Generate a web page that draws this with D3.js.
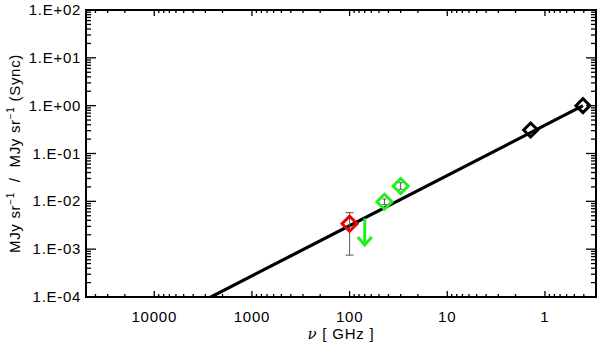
<!DOCTYPE html>
<html>
<head>
<meta charset="utf-8">
<script src="https://d3js.org/d3.v7.min.js"></script>
<style>
  body { margin: 0; background: #fff; }
  svg text { font-family: "Liberation Sans", Arial, sans-serif; fill: #000; }
</style>
</head>
<body>
<div id="graph"></div>
<script>
// Synchrotron reference points (GHz, ratio)
var syncFreq = [0.408, 1.4];
var syncVal = [1.0, 0.31];

// Green points with small error bars
var greenFreq = [30, 44];
var greenVal = [0.0209, 0.0098];
var greenLo = [0.0178, 0.0086];
var greenHi = [0.0245, 0.0112];

// Red point with error bar
var redFreq = [100];
var redVal = [0.0034];
var redLo = [0.00075];
var redHi = [0.0058];

// Upper limit arrow
var limitFreq = [70];
var limitTop = [0.0044];
var limitTip = [0.00122];

// Power law line (end points)
var lineFreq = [0.408, 5000];
var lineVal = [1.0, 0.000051];

var yTickLabels = ["1.E-04", "1.E-03", "1.E-02", "1.E-01", "1.E+00", "1.E+01", "1.E+02"];
var xTickLabels = ["10000", "1000", "100", "10", "1"];

var width = 600, height = 342;
var margin = {top: 10, right: 4, bottom: 45, left: 86};

var svg = d3.select("#graph").append("svg")
    .attr("width", width)
    .attr("height", height);

var x = d3.scaleLog().domain([50000, 0.3]).range([margin.left, width - margin.right]);
var y = d3.scaleLog().domain([1e-4, 1e2]).range([height - margin.bottom, margin.top]);

var x0 = x.range()[0], x1 = x.range()[1], y0 = y.range()[0], y1 = y.range()[1];

// clip for data
svg.append("clipPath").attr("id", "clip")
  .append("rect")
    .attr("x", x0).attr("y", y1)
    .attr("width", x1 - x0).attr("height", y0 - y1);

function isMajor(v) {
    var l = Math.log10(v);
    return Math.abs(l - Math.round(l)) < 1e-6;
}

var xAll = x.ticks();
var yAll = y.ticks();
var xMajor = xAll.filter(isMajor), xMinor = xAll.filter(function(d){ return !isMajor(d); });
var yMajor = yAll.filter(isMajor), yMinor = yAll.filter(function(d){ return !isMajor(d); });

var axes = svg.append("g").attr("class", "axes");

// bottom + top ticks
[[y0, -1], [y1, 1]].forEach(function(p) {
    axes.selectAll(null).data(xMajor).enter().append("line")
        .attr("x1", function(d){ return x(d); }).attr("x2", function(d){ return x(d); })
        .attr("y1", p[0]).attr("y2", p[0] + p[1] * 6)
        .attr("stroke", "#000").attr("stroke-width", 1.3);
    axes.selectAll(null).data(xMinor).enter().append("line")
        .attr("x1", function(d){ return x(d); }).attr("x2", function(d){ return x(d); })
        .attr("y1", p[0]).attr("y2", p[0] + p[1] * 3)
        .attr("stroke", "#000").attr("stroke-width", 1.3);
});

// left + right ticks
[[x0, 1], [x1, -1]].forEach(function(p) {
    axes.selectAll(null).data(yMajor).enter().append("line")
        .attr("y1", function(d){ return y(d); }).attr("y2", function(d){ return y(d); })
        .attr("x1", p[0]).attr("x2", p[0] + p[1] * 10)
        .attr("stroke", "#000").attr("stroke-width", 1.3);
    axes.selectAll(null).data(yMinor).enter().append("line")
        .attr("y1", function(d){ return y(d); }).attr("y2", function(d){ return y(d); })
        .attr("x1", p[0]).attr("x2", p[0] + p[1] * 5)
        .attr("stroke", "#000").attr("stroke-width", 1.3);
});

// tick labels
axes.selectAll("text.xl").data(xMajor.slice().sort(function(a, b){ return b - a; })).enter().append("text")
    .attr("class", "xl")
    .attr("x", function(d){ return x(d); })
    .attr("y", y0 + 25)
    .attr("text-anchor", "middle")
    .style("font-size", "15px")
    .style("letter-spacing", "0.8px")
    .text(function(d, i){ return xTickLabels[i]; });

axes.selectAll("text.yl").data(yMajor).enter().append("text")
    .attr("class", "yl")
    .attr("x", x0 - 5)
    .attr("y", function(d){ return y(d) + 5; })
    .attr("text-anchor", "end")
    .style("font-size", "15px")
    .style("letter-spacing", "0.7px")
    .text(function(d, i){ return yTickLabels[i]; });

// frame
svg.append("rect")
    .attr("x", x0).attr("y", y1)
    .attr("width", x1 - x0).attr("height", y0 - y1)
    .attr("fill", "none").attr("stroke", "#000").attr("stroke-width", 2);

// axis titles
var xt = svg.append("text")
    .attr("x", (x0 + x1) / 2)
    .attr("y", 339)
    .attr("text-anchor", "middle")
    .style("font-size", "15px")
    .style("letter-spacing", "0.8px");
xt.append("tspan").style("font-style", "italic").style("font-family", "DejaVu Serif").text("\u03bd");
xt.append("tspan").text("\u00a0[\u00a0GHz\u00a0]");

var yt = svg.append("text")
    .attr("transform", "translate(20," + ((y0 + y1) / 2) + ") rotate(-90)")
    .attr("text-anchor", "middle")
    .style("font-size", "15px")
    .style("letter-spacing", "0.7px");
yt.append("tspan").text("MJy sr");
yt.append("tspan").attr("dy", -6).style("font-size", "10px").text("\u22121");
yt.append("tspan").attr("dy", 6).text("\u00a0\u00a0/\u00a0\u00a0MJy sr");
yt.append("tspan").attr("dy", -6).style("font-size", "10px").text("\u22121");
yt.append("tspan").attr("dy", 6).text("\u00a0(Sync)");

var plot = svg.append("g").attr("clip-path", "url(#clip)");

// power law line
var lineData = lineFreq.map(function(f, i){ return [f, lineVal[i]]; });
plot.append("path")
    .datum(lineData)
    .attr("fill", "none")
    .attr("stroke", "#000")
    .attr("stroke-width", 3.2)
    .attr("d", d3.line()
        .x(function(d){ return x(d[0]); })
        .y(function(d){ return y(d[1]); }));

// error bars
function errorBars(fr, lo, hi, cap) {
    fr.forEach(function(f, i) {
        var cx = x(f);
        plot.append("line")
            .attr("x1", cx).attr("x2", cx)
            .attr("y1", y(lo[i])).attr("y2", y(hi[i]))
            .attr("stroke", "#555").attr("stroke-width", 1);
        [lo[i], hi[i]].forEach(function(v) {
            plot.append("line")
                .attr("x1", cx - cap).attr("x2", cx + cap)
                .attr("y1", y(v)).attr("y2", y(v))
                .attr("stroke", "#555").attr("stroke-width", 1);
        });
    });
}

function diamonds(fr, vals, color, r) {
    plot.selectAll(null).data(fr).enter().append("path")
        .attr("transform", function(d, i){ return "translate(" + x(d) + "," + y(vals[i]) + ")"; })
        .attr("d", "M0," + (-r) + "L" + r + ",0L0," + r + "L" + (-r) + ",0Z")
        .attr("fill", "none")
        .attr("stroke", color)
        .attr("stroke-width", 3);
}

errorBars(redFreq, redLo, redHi, 4);
errorBars(greenFreq, greenLo, greenHi, 2);

diamonds(syncFreq, syncVal, "#000", 7);
diamonds(redFreq, redVal, "#ee0000", 7.5);
diamonds(greenFreq, greenVal, "#22ee22", 7.5);

// upper limit arrow
limitFreq.forEach(function(f, i) {
    var cx = x(f), ya = y(limitTop[i]), yb = y(limitTip[i]);
    plot.append("line")
        .attr("x1", cx).attr("x2", cx)
        .attr("y1", ya).attr("y2", yb - 1)
        .attr("stroke", "#22ee22").attr("stroke-width", 3);
    plot.append("path")
        .attr("d", "M" + (cx - 7) + "," + (yb - 8) + "L" + cx + "," + yb + "L" + (cx + 7) + "," + (yb - 8))
        .attr("fill", "none")
        .attr("stroke", "#22ee22").attr("stroke-width", 3);
});
</script>
</body>
</html>
